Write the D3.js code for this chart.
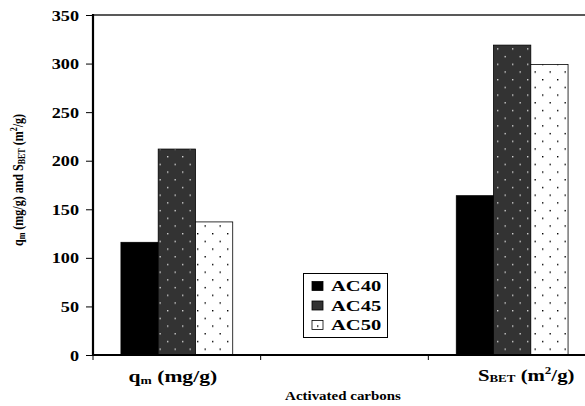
<!DOCTYPE html>
<html>
<head>
<meta charset="utf-8">
<script src="https://cdn.jsdelivr.net/npm/d3@7"></script>
<style>
  html, body { margin: 0; padding: 0; background: #fff; }
  svg { display: block; }
  text { font-family: "Liberation Serif", "Times New Roman", serif; font-weight: bold; fill: #000; }
</style>
</head>
<body>
<svg id="chart" width="585" height="406"></svg>
<script>
// Categories along the x axis (the middle slot is an empty spacer category)
const categories = ["qm", "gap", "sbet"];
const seriesNames = ["AC40", "AC45", "AC50"];
// Values per series, one entry per category (null = no bar)
const ac40 = [116, null, 164];
const ac45 = [212, null, 319];
const ac50 = [137, null, 299];
const yTicks = [0, 50, 100, 150, 200, 250, 300, 350];

const seriesValues = [ac40, ac45, ac50];

const margin = { left: 93, top: 15, right: 596, bottom: 355 };

const svg = d3.select("#chart");

// Fill patterns for the bars
const defs = svg.append("defs");
function dotPattern(id, bg, dot) {
  const p = defs.append("pattern")
    .attr("id", id).attr("patternUnits", "userSpaceOnUse")
    .attr("width", 15).attr("height", 15.4)
    .attr("x", 2).attr("y", 2);
  p.append("rect").attr("width", 15).attr("height", 15.4).attr("fill", bg);
  p.append("rect").attr("x", 0).attr("y", 0).attr("width", 1.4).attr("height", 1.4).attr("fill", dot);
  p.append("rect").attr("x", 7.5).attr("y", 7.7).attr("width", 1.4).attr("height", 1.4).attr("fill", dot);
}
dotPattern("pat45", "#333333", "#cfcfcf");
dotPattern("pat50", "#ffffff", "#000000");
const fills = ["#000000", "url(#pat45)", "url(#pat50)"];

const x = d3.scaleBand().domain(categories).range([margin.left, margin.right]).padding(0);
const y = d3.scaleLinear().domain([0, 350]).range([margin.bottom, margin.top]);
const bw = x.bandwidth();
const barW = bw * 2 / 9;
const x1 = d3.scaleBand().domain(seriesNames)
  .range([(bw - 3 * barW) / 2, (bw + 3 * barW) / 2]).padding(0);

// Plot frame (top line)
svg.append("line")
  .attr("x1", margin.left).attr("x2", margin.right)
  .attr("y1", margin.top).attr("y2", margin.top)
  .attr("stroke", "#222").attr("stroke-width", 1.6);

// Bars
seriesNames.forEach((name, si) => {
  const data = categories.map((c, ci) => ({ c, v: seriesValues[si][ci] })).filter(d => d.v != null);
  svg.append("g").selectAll("rect").data(data).join("rect")
    .attr("x", d => x(d.c) + x1(name))
    .attr("y", d => y(d.v))
    .attr("width", x1.bandwidth())
    .attr("height", d => y(0) - y(d.v))
    .attr("fill", fills[si])
    .attr("stroke", "#000").attr("stroke-width", 0.8);
});

// Horizontally stretched bold lettering
function stretched(g, px, py, anchor, size, sx) {
  return g.append("text")
    .attr("transform", `translate(${px},${py}) scale(${sx},1)`)
    .attr("text-anchor", anchor)
    .attr("font-size", size);
}

// Y axis
const yAxis = svg.append("g").attr("transform", `translate(${margin.left},0)`)
  .call(d3.axisLeft(y).tickValues(yTicks).tickSize(7).tickFormat(""));
yAxis.select(".domain").attr("stroke", "#000").attr("stroke-width", 2.2).attr("d", `M0,${margin.top - 1}V${margin.bottom + 1}`);
yAxis.selectAll(".tick line").attr("stroke", "#000").attr("stroke-width", 1);
yAxis.selectAll(".tick").each(function (d) {
  stretched(d3.select(this), -14, 5, "end", 14, 1.3).text(d);
});

// X axis: category boundary ticks
const xBounds = categories.map(c => x(c)).concat([margin.right]);
const xAxis = svg.append("g");
xAxis.append("line")
  .attr("x1", margin.left - 1).attr("x2", margin.right)
  .attr("y1", margin.bottom).attr("y2", margin.bottom)
  .attr("stroke", "#000").attr("stroke-width", 2.2);
xAxis.selectAll("line.tk").data(xBounds).join("line").attr("class", "tk")
  .attr("x1", d => d).attr("x2", d => d)
  .attr("y1", margin.bottom).attr("y2", margin.bottom + 5)
  .attr("stroke", "#000").attr("stroke-width", 1);

// Category labels
const t1 = stretched(svg, x("qm") + bw / 2 - 4, 382, "middle", 16, 1.35);
t1.append("tspan").text("q");
t1.append("tspan").attr("font-size", 10).attr("dy", 2).text("m");
t1.append("tspan").attr("dy", -2).text(" (mg/g)");

const t2 = stretched(svg, x("sbet") + bw / 2 + 14, 381, "middle", 16, 1.3);
t2.append("tspan").text("S");
t2.append("tspan").attr("font-size", 10).attr("dy", 1).text("BET");
t2.append("tspan").attr("dy", -1).text(" (m");
t2.append("tspan").attr("font-size", 10).attr("dy", -7).text("2");
t2.append("tspan").attr("dy", 7).text("/g)");

// X axis title
stretched(svg, 343, 400, "middle", 13, 1.15).text("Activated carbons");

// Y axis title
const yt = svg.append("text")
  .attr("transform", `translate(23,180) scale(1.3,1) rotate(-90)`)
  .attr("text-anchor", "middle")
  .attr("font-size", 12);
yt.append("tspan").text("q");
yt.append("tspan").attr("font-size", 8).attr("dy", 1.5).text("m");
yt.append("tspan").attr("dy", -1.5).text(" (mg/g) and S");
yt.append("tspan").attr("font-size", 8).attr("dy", 1.5).text("BET");
yt.append("tspan").attr("dy", -1.5).text(" (m");
yt.append("tspan").attr("font-size", 8).attr("dy", -5).text("2");
yt.append("tspan").attr("dy", 5).text("/g)");

// Legend
const lg = svg.append("g");
lg.append("rect").attr("x", 303.5).attr("y", 273.5).attr("width", 84).attr("height", 64)
  .attr("fill", "#fff").attr("stroke", "#000").attr("stroke-width", 1);
seriesNames.forEach((name, i) => {
  const cy = 286 + i * 19.5;
  lg.append("rect").attr("x", 312).attr("y", cy - 4.5).attr("width", 11).attr("height", 9)
    .attr("fill", fills[i]).attr("stroke", "#000").attr("stroke-width", 0.8);
  stretched(lg, 331, cy + 5, "start", 15, 1.37).text(name);
});
</script>
</body>
</html>
